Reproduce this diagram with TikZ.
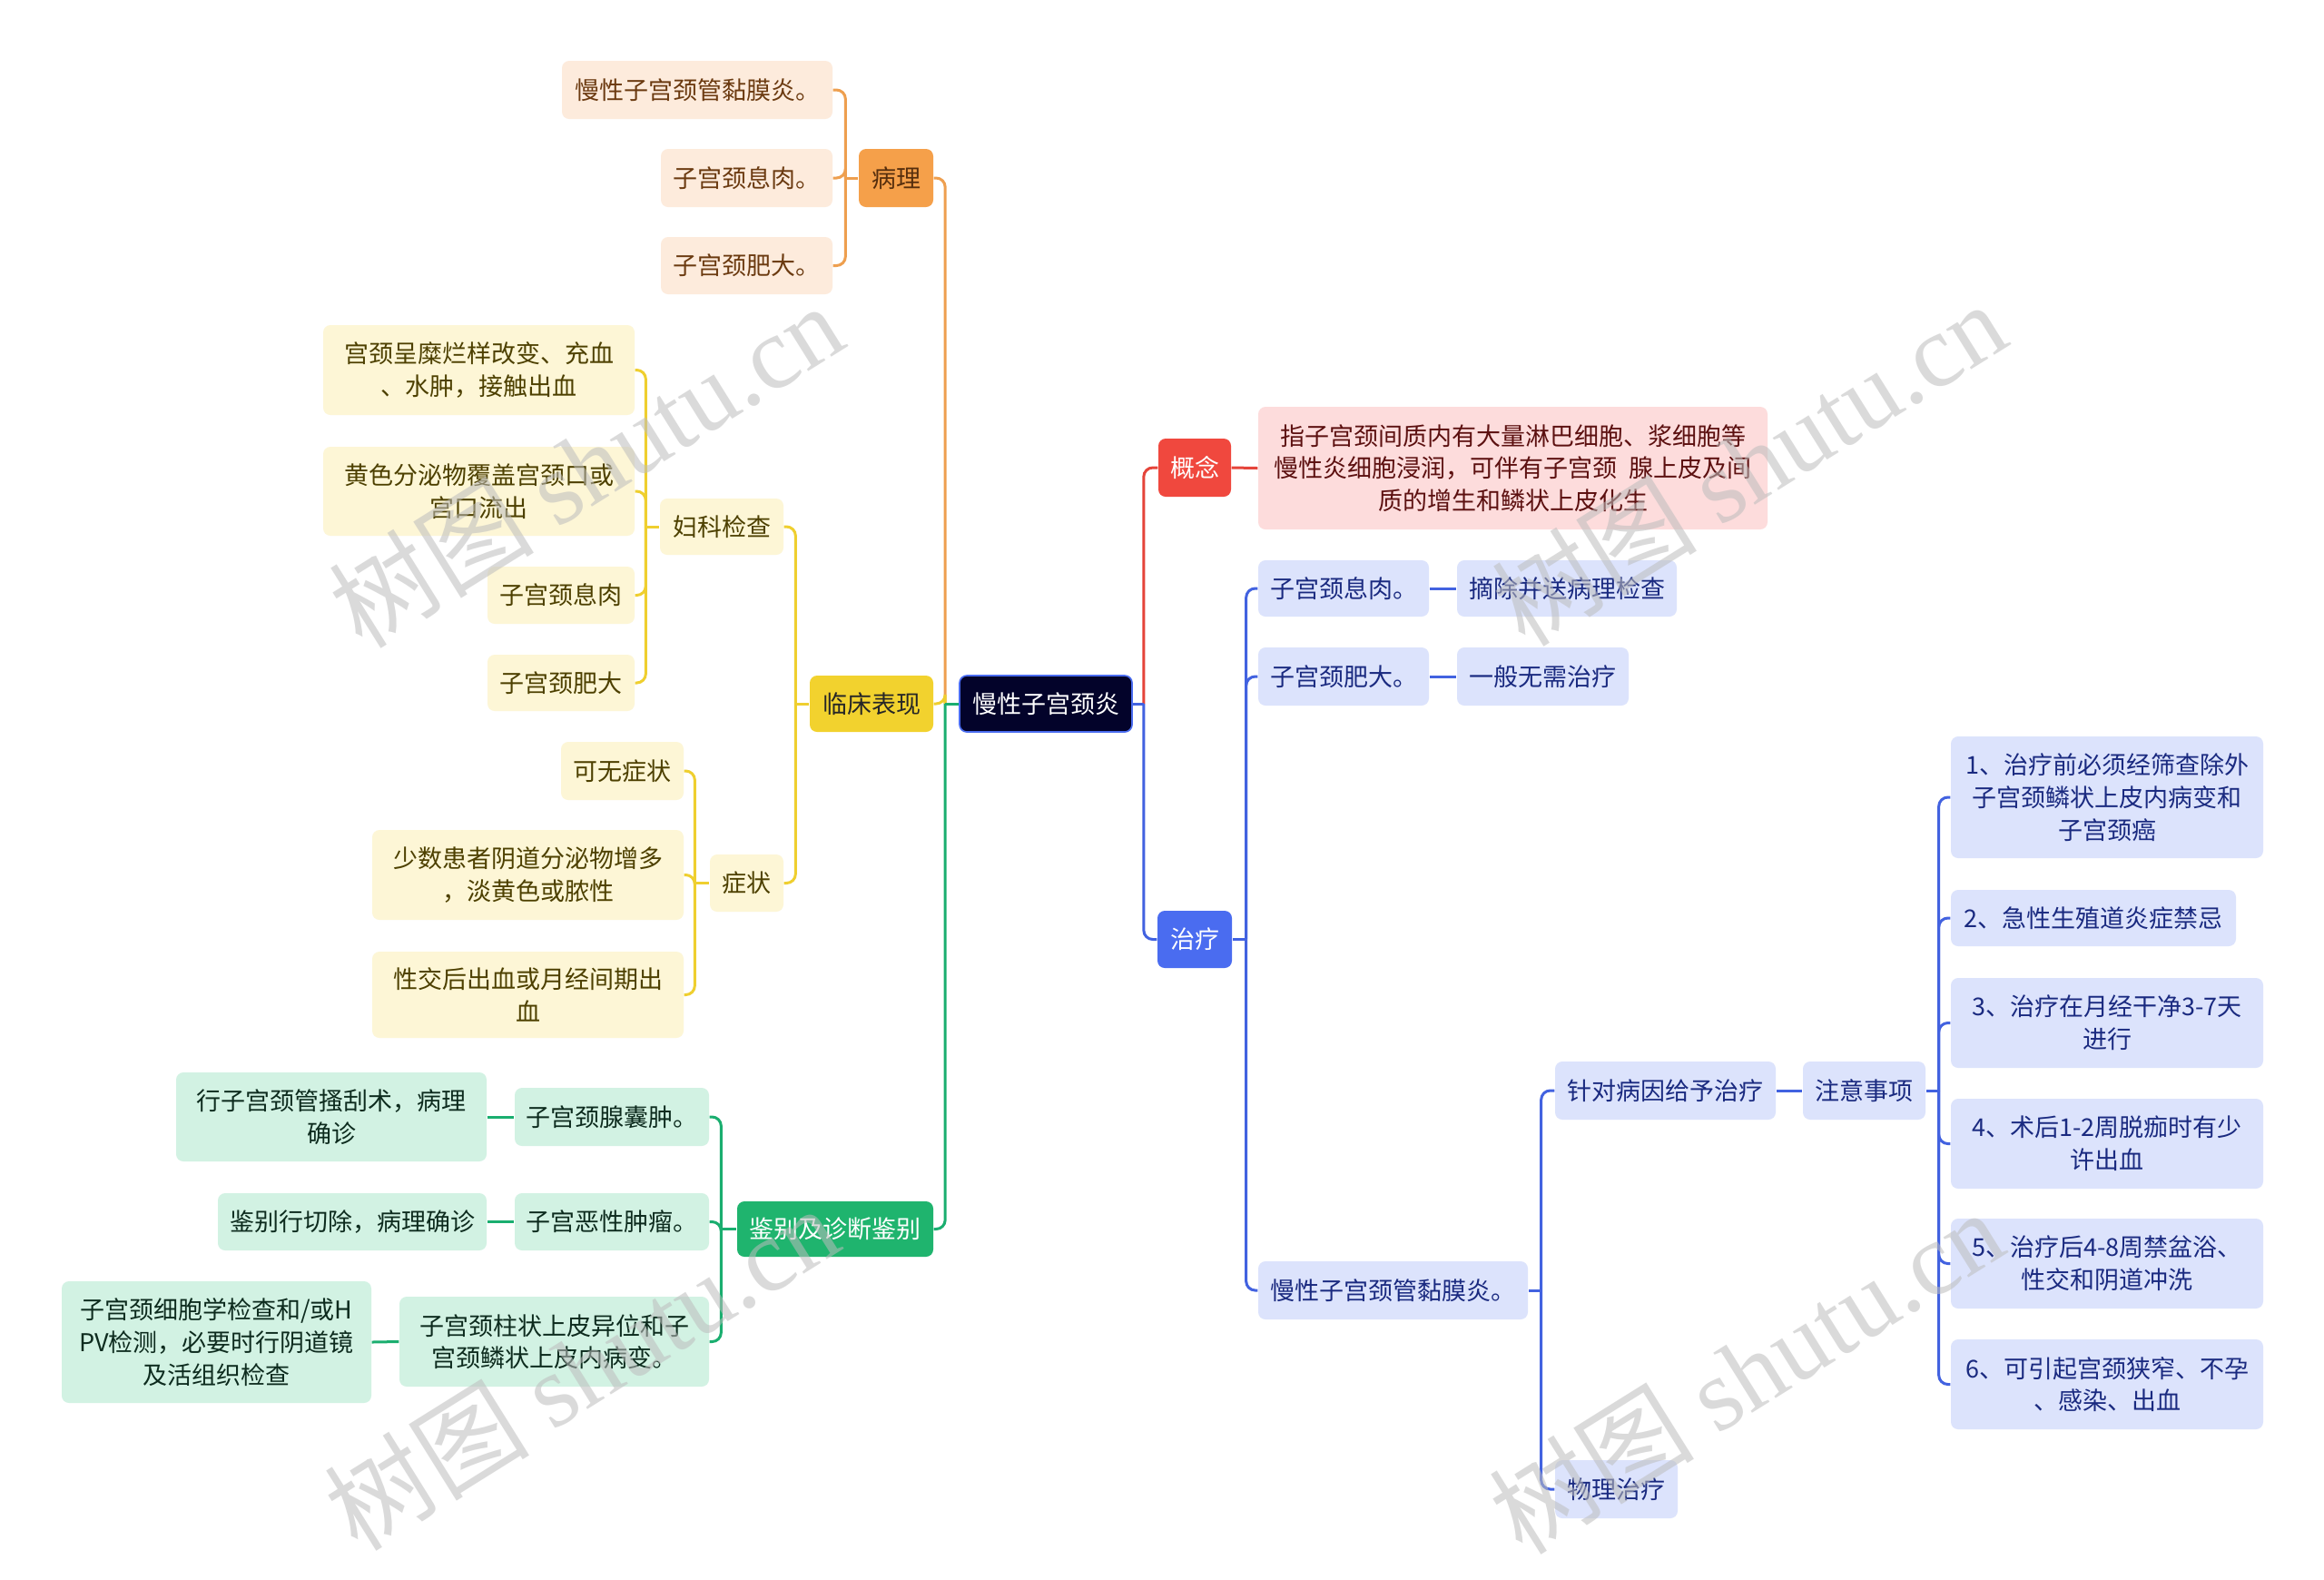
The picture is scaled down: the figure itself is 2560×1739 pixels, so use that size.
\documentclass[tikz,border=0pt]{standalone}
\usepackage{fontspec}
\newfontfamily\cjk{Noto Sans CJK SC}
\newfontfamily\wmlat{Liberation Serif}
\definecolor{cOr}{HTML}{EE9F4F}
\definecolor{fOr}{HTML}{F5A04A}
\definecolor{lOr}{HTML}{FDEBDC}
\definecolor{tOr}{HTML}{6B3A10}
\definecolor{cYe}{HTML}{EFCF2F}
\definecolor{fYe}{HTML}{F2D22E}
\definecolor{lYe}{HTML}{FDF6D6}
\definecolor{tYe}{HTML}{4D4000}
\definecolor{cGr}{HTML}{1AAE6F}
\definecolor{fGr}{HTML}{1FB46E}
\definecolor{lGr}{HTML}{D2F2E3}
\definecolor{tGr}{HTML}{0D2B1E}
\definecolor{cRe}{HTML}{E5443A}
\definecolor{fRe}{HTML}{F0483E}
\definecolor{lRe}{HTML}{FDDCDC}
\definecolor{tRe}{HTML}{5C1010}
\definecolor{cBl}{HTML}{4262E0}
\definecolor{fBl}{HTML}{4A6CF0}
\definecolor{lBl}{HTML}{DCE3FC}
\definecolor{tBl}{HTML}{1A2A80}
\definecolor{rootf}{HTML}{03032A}
\definecolor{wm}{HTML}{BDBDBD}
\newcommand\bx[7]{%
 \pgfmathsetmacro\bxcx{(#2+#4)/2}%
 \pgfmathsetmacro\bxcy{(#3+#5)/2}%
 \pgfmathsetmacro\bxw{(#4-#2)*0.3}%
 \pgfmathsetmacro\bxh{(#5-#3)*0.3}%
 \node[box,#6,minimum width=\bxw pt,minimum height=\bxh pt] (#1) at (\bxcx,\bxcy) {#7};}
% left elbow: child, parent, bus offset(px), colour
\newcommand\elL[4]{\draw[conn=#4] (#1.east) -| ([xshift=-#3*0.3pt]#2.west);}
\newcommand\trL[3]{\draw[connS=#3] ([xshift=-#2*0.3pt]#1.west) -- (#1.west);}
\newcommand\elR[4]{\draw[conn=#4] (#1.west) -| ([xshift=#3*0.3pt]#2.east);}
\newcommand\trR[3]{\draw[connS=#3] ([xshift=#2*0.3pt]#1.east) -- (#1.east);}
\begin{document}
\begin{tikzpicture}[x=0.3pt,y=-0.3pt,
 box/.style={rectangle,rounded corners=2.4pt,inner sep=0pt,align=center,
   font=\cjk\fontsize{8.1}{10.7}\selectfont},
 conn/.style={draw=#1,line width=0.9pt,rounded corners=3pt},
 connS/.style={draw=#1,line width=0.9pt},
 oleaf/.style={fill=lOr,text=tOr},
 yleaf/.style={fill=lYe,text=tYe},
 gleaf/.style={fill=lGr,text=tGr},
 rleaf/.style={fill=lRe,text=tRe},
 bleaf/.style={fill=lBl,text=tBl},
 wmark/.style={text=wm,opacity=0.55,rotate=32,font=\cjk\fontsize{34}{38}\selectfont}
]
\useasboundingbox[fill=white] (0,0) rectangle (2560,1739);

% ---------- nodes ----------
\bx{root}{1057}{744}{1247}{806}{fill=rootf,text=white,draw=fBl,line width=0.5pt}{慢性子宫颈炎}

% orange branch
\bx{bl}{946}{164}{1028}{228}{fill=fOr,text=tOr!80!black}{病理}
\bx{p1}{619}{67}{917}{131}{oleaf}{慢性子宫颈管黏膜炎。}
\bx{p2}{728}{164}{917}{228}{oleaf}{子宫颈息肉。}
\bx{p3}{728}{261}{917}{324}{oleaf}{子宫颈肥大。}

% yellow branch
\bx{lc}{892}{744}{1028}{806}{fill=fYe,text=black!85}{临床表现}
\bx{fk}{727}{549}{863}{611}{yleaf}{妇科检查}
\bx{y1}{356}{358}{699}{457}{yleaf}{宫颈呈糜烂样改变、充血\\、水肿，接触出血}
\bx{y2}{356}{492}{699}{590}{yleaf}{黄色分泌物覆盖宫颈口或\\宫口流出}
\bx{y3}{537}{624}{699}{687}{yleaf}{子宫颈息肉}
\bx{y4}{537}{721}{699}{783}{yleaf}{子宫颈肥大}
\bx{zz}{782}{941}{863}{1004}{yleaf}{症状}
\bx{s1}{618}{817}{753}{881}{yleaf}{可无症状}
\bx{s2}{410}{914}{753}{1013}{yleaf}{少数患者阴道分泌物增多\\，淡黄色或脓性}
\bx{s3}{410}{1048}{753}{1143}{yleaf}{性交后出血或月经间期出\\血}

% green branch
\bx{jb}{812}{1323}{1028}{1384}{fill=fGr,text=white}{鉴别及诊断鉴别}
\bx{g1}{567}{1198}{781}{1262}{gleaf}{子宫颈腺囊肿。}
\bx{g1a}{194}{1181}{536}{1279}{gleaf}{行子宫颈管搔刮术，病理\\确诊}
\bx{g2}{567}{1314}{781}{1377}{gleaf}{子宫恶性肿瘤。}
\bx{g2a}{240}{1314}{536}{1377}{gleaf}{鉴别行切除，病理确诊}
\bx{g3}{440}{1428}{781}{1527}{gleaf}{子宫颈柱状上皮异位和子\\宫颈鳞状上皮内病变。}
\bx{g3a}{68}{1411}{409}{1545}{gleaf}{子宫颈细胞学检查和/或H\\PV检测，必要时行阴道镜\\及活组织检查}

% red branch
\bx{gn}{1276}{483}{1356}{547}{fill=fRe,text=white}{概念}
\bx{gnd}{1386}{448}{1947}{583}{rleaf}{指子宫颈间质内有大量淋巴细胞、浆细胞等\\慢性炎细胞浸润，可伴有子宫颈\ \ 腺上皮及间\\质的增生和鳞状上皮化生}

% blue branch
\bx{zl}{1275}{1003}{1357}{1066}{fill=fBl,text=white}{治疗}
\bx{b1}{1386}{617}{1574}{679}{bleaf}{子宫颈息肉。}
\bx{b1a}{1605}{617}{1847}{679}{bleaf}{摘除并送病理检查}
\bx{b2}{1386}{713}{1574}{777}{bleaf}{子宫颈肥大。}
\bx{b2a}{1605}{713}{1794}{777}{bleaf}{一般无需治疗}
\bx{b3}{1386}{1389}{1683}{1453}{bleaf}{慢性子宫颈管黏膜炎。}
\bx{b3a}{1713}{1169}{1956}{1233}{bleaf}{针对病因给予治疗}
\bx{zy}{1986}{1169}{2121}{1233}{bleaf}{注意事项}
\bx{b3b}{1713}{1608}{1848}{1672}{bleaf}{物理治疗}
\bx{n1}{2149}{811}{2493}{945}{bleaf}{1、治疗前必须经筛查除外\\子宫颈鳞状上皮内病变和\\子宫颈癌}
\bx{n2}{2149}{980}{2463}{1042}{bleaf}{2、急性生殖道炎症禁忌}
\bx{n3}{2149}{1077}{2493}{1176}{bleaf}{3、治疗在月经干净3-7天\\进行}
\bx{n4}{2149}{1210}{2493}{1309}{bleaf}{4、术后1-2周脱痂时有少\\许出血}
\bx{n5}{2149}{1342}{2493}{1441}{bleaf}{5、治疗后4-8周禁盆浴、\\性交和阴道冲洗}
\bx{n6}{2149}{1475}{2493}{1574}{bleaf}{6、可引起宫颈狭窄、不孕\\、感染、出血}

% ---------- connectors ----------
% root left
\elL{bl}{root}{15}{cOr}
\elL{lc}{root}{15}{cYe}
\elL{jb}{root}{15}{cGr}
\trL{root}{15}{cGr}
% 病理
\elL{p1}{bl}{14}{cOr}
\elL{p2}{bl}{14}{cOr}
\elL{p3}{bl}{14}{cOr}
\trL{bl}{14}{cOr}
% 临床表现
\elL{fk}{lc}{15}{cYe}
\elL{zz}{lc}{15}{cYe}
\trL{lc}{15}{cYe}
\elL{y1}{fk}{15}{cYe}
\elL{y2}{fk}{15}{cYe}
\elL{y3}{fk}{15}{cYe}
\elL{y4}{fk}{15}{cYe}
\trL{fk}{15}{cYe}
\elL{s1}{zz}{16}{cYe}
\elL{s2}{zz}{16}{cYe}
\elL{s3}{zz}{16}{cYe}
\trL{zz}{16}{cYe}
% 鉴别
\elL{g1}{jb}{17}{cGr}
\elL{g2}{jb}{17}{cGr}
\elL{g3}{jb}{17}{cGr}
\trL{jb}{17}{cGr}
\draw[connS=cGr] (g1a.east) -- (g1.west);
\draw[connS=cGr] (g2a.east) -- (g2.west);
\draw[connS=cGr] (g3a.east) -- (g3.west);
% root right
\elR{gn}{root}{12}{cRe}
\elR{zl}{root}{12}{cBl}
\trR{root}{12}{cBl}
\draw[connS=cRe] (gn.east) -- (gnd.west);
% 治疗
\elR{b1}{zl}{15}{cBl}
\elR{b2}{zl}{15}{cBl}
\elR{b3}{zl}{15}{cBl}
\trR{zl}{15}{cBl}
\draw[connS=cBl] (b1.east) -- (b1a.west);
\draw[connS=cBl] (b2.east) -- (b2a.west);
\elR{b3a}{b3}{14}{cBl}
\elR{b3b}{b3}{14}{cBl}
\trR{b3}{14}{cBl}
\draw[connS=cBl] (b3a.east) -- (zy.west);
\foreach \n in {n1,n2,n3,n4,n5,n6}{\elR{\n}{zy}{14}{cBl}}
\trR{zy}{14}{cBl}

% ---------- watermarks ----------
\node[wmark] (wm1) at (645,512) {树图 {\wmlat shutu.cn}};
\node[wmark] (wm2) at (1926,510) {树图 {\wmlat shutu.cn}};
\node[wmark] (wm3) at (640,1506) {树图 {\wmlat shutu.cn}};
\node[wmark] (wm4) at (1923,1510) {树图 {\wmlat shutu.cn}};
\end{tikzpicture}
\end{document}
